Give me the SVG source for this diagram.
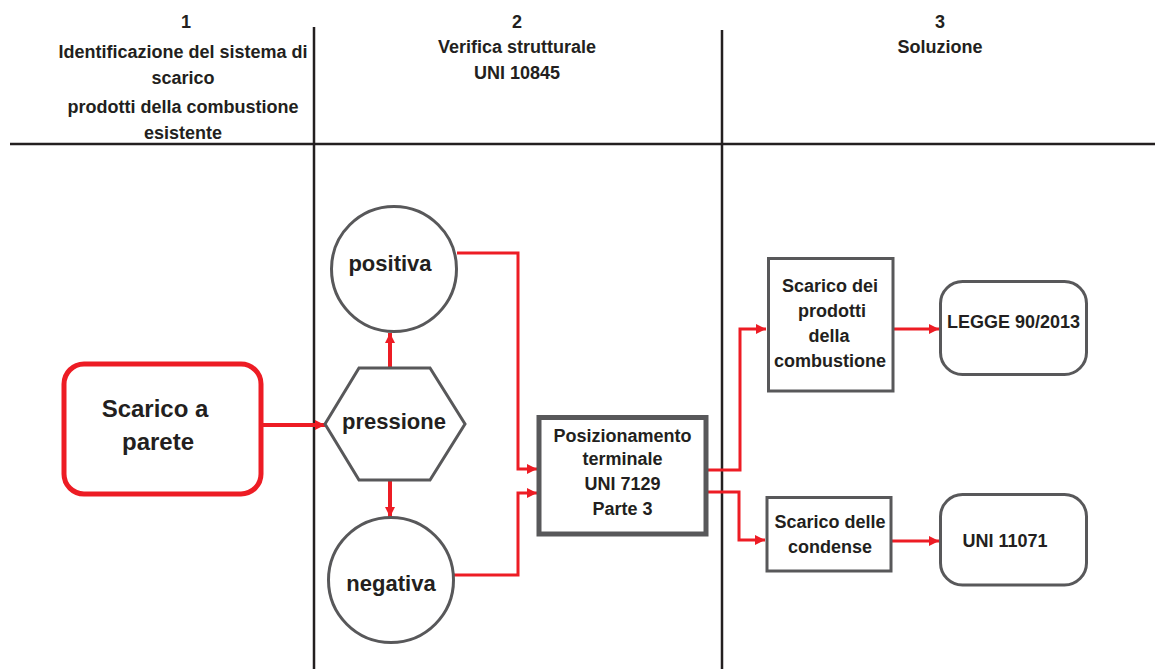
<svg xmlns="http://www.w3.org/2000/svg" width="1155" height="669" viewBox="0 0 1155 669">
  <style>
    .txt { font-family: "Liberation Sans", Arial, sans-serif; font-weight: bold; fill: #231f20; text-anchor: middle; }
    .h { font-size: 18px; }
    .n18 { font-size: 18px; }
    .n22 { font-size: 22px; }
    .n24 { font-size: 24px; }
    .grid { stroke: #231f20; stroke-width: 2.5; fill: none; }
    .shape { fill: #fff; stroke: #58585a; stroke-width: 3; }
    .thick { fill: #fff; stroke: #58585a; stroke-width: 5; }
    .start { fill: #fff; stroke: #ed1c24; stroke-width: 5; }
    .link { fill: none; stroke: #ed1c24; stroke-width: 3; marker-end: url(#arrow); }
    .link4 { fill: none; stroke: #ed1c24; stroke-width: 4; marker-end: url(#arrow); }
  </style>
  <defs>
    <marker id="arrow" markerUnits="userSpaceOnUse" viewBox="0 0 10 10" refX="10" refY="5" markerWidth="10" markerHeight="10" orient="auto">
      <path d="M0,0 L10,5 L0,10 z" fill="#ed1c24"/>
    </marker>
  </defs>
  <rect width="1155" height="669" fill="#fff"/>

  <!-- column grid -->
  <g id="grid">
    <line class="grid" x1="10" y1="144" x2="1155" y2="144"/>
    <line class="grid" x1="314" y1="27" x2="314" y2="669"/>
    <line class="grid" x1="722" y1="30" x2="722" y2="669"/>
  </g>

  <!-- column headings -->
  <g id="headings" class="txt h">
    <text x="186" y="28">1</text>
    <text x="183" y="58">Identificazione del sistema di</text>
    <text x="183" y="84">scarico</text>
    <text x="183" y="113">prodotti della combustione</text>
    <text x="183" y="139">esistente</text>
    <text x="517" y="28">2</text>
    <text x="517" y="53">Verifica strutturale</text>
    <text x="517" y="79">UNI 10845</text>
    <text x="940" y="28">3</text>
    <text x="940" y="53">Soluzione</text>
  </g>

  <!-- connectors -->
  <g id="connectors">
    <path class="link4" d="M263,425 H325"/>
    <path class="link4" d="M390,368 V333"/>
    <path class="link4" d="M390,480 V517"/>
    <path class="link" d="M457,253 H518 V469 H537"/>
    <path class="link" d="M454,575 H518 V493 H537"/>
    <path class="link" d="M708,470 H740 V329 H766"/>
    <path class="link" d="M708,492 H739 V540 H765"/>
    <path class="link" d="M893,329 H939"/>
    <path class="link" d="M891,541 H939"/>
  </g>

  <g id="scarico-parete">
    <rect class="start" x="64" y="364" width="197" height="130" rx="20"/>
    <text class="txt n24" x="155" y="417">Scarico a</text>
    <text class="txt n24" x="158" y="450">parete</text>
  </g>

  <g id="pressione">
    <polygon class="shape" points="325,424 359,368 430,368 465,424 430,480 359,480"/>
    <text class="txt n22" x="394" y="429">pressione</text>
  </g>

  <g id="positiva">
    <circle class="shape" cx="394" cy="269" r="62.5"/>
    <text class="txt n22" x="390" y="271">positiva</text>
  </g>

  <g id="negativa">
    <circle class="shape" cx="391" cy="580" r="62.5"/>
    <text class="txt n22" x="391" y="591">negativa</text>
  </g>

  <g id="posizionamento">
    <rect class="thick" x="539" y="417.5" width="167" height="116.5"/>
    <text class="txt n18" x="622.5" y="442">Posizionamento</text>
    <text class="txt n18" x="622.5" y="465">terminale</text>
    <text class="txt n18" x="622.5" y="490">UNI 7129</text>
    <text class="txt n18" x="622.5" y="515">Parte 3</text>
  </g>

  <g id="scarico-prodotti">
    <rect class="shape" x="768.5" y="258.5" width="124.5" height="132.5" stroke-width="3.5"/>
    <text class="txt n18" x="830" y="292">Scarico dei</text>
    <text class="txt n18" x="832" y="317">prodotti</text>
    <text class="txt n18" x="829" y="342">della</text>
    <text class="txt n18" x="830" y="367">combustione</text>
  </g>

  <g id="scarico-condense">
    <rect class="shape" x="767" y="497.5" width="124" height="73.5" stroke-width="3.5"/>
    <text class="txt n18" x="830" y="528">Scarico delle</text>
    <text class="txt n18" x="830" y="553">condense</text>
  </g>

  <g id="legge">
    <rect class="shape" x="940.5" y="281.5" width="146" height="93" rx="22" stroke-width="3.5"/>
    <text class="txt n18" x="1013.5" y="328">LEGGE 90/2013</text>
  </g>

  <g id="uni-11071">
    <rect class="shape" x="940.5" y="494.5" width="146" height="90.5" rx="22" stroke-width="3.5"/>
    <text class="txt n18" x="1005" y="547">UNI 11071</text>
  </g>
</svg>
